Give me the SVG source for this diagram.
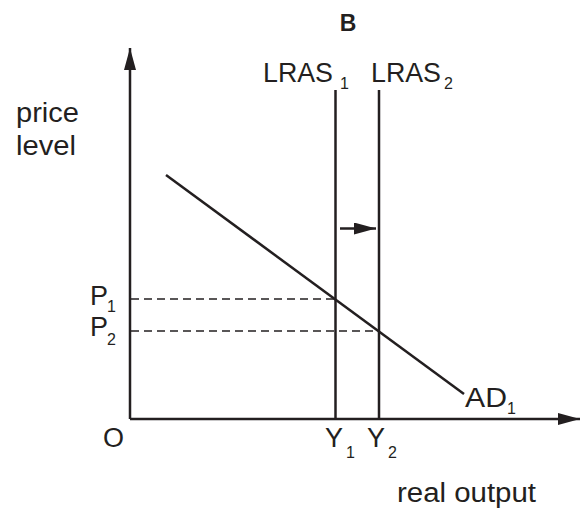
<svg xmlns="http://www.w3.org/2000/svg" width="581" height="514" viewBox="0 0 581 514">
<style>
  text { font-family: "Liberation Sans", Arial, sans-serif; fill: #231f20; }
  .lbl { font-size: 27px; }
  .sub { font-size: 16px; }
  .ln { stroke: #231f20; stroke-width: 2.5; fill: none; }
  .dash { stroke: #231f20; stroke-width: 1.4; stroke-dasharray: 8 5; fill: none; }
</style>
<defs>
  <marker id="ah" markerUnits="userSpaceOnUse" markerWidth="24" markerHeight="14" refX="22" refY="6" orient="auto">
    <path d="M0,0 L22,6 L0,12 Z" fill="#231f20"/>
  </marker>
</defs>
<rect width="581" height="514" fill="#ffffff"/>
<text x="348" y="31" text-anchor="middle" style="font-size:23px;font-weight:bold">B</text>
<g id="axes">
  <line class="ln" x1="130" y1="419" x2="130" y2="48" marker-end="url(#ah)"/>
  <line class="ln" x1="130" y1="419" x2="580" y2="419" marker-end="url(#ah)"/>
  <text class="lbl" x="16" y="122" textLength="63" lengthAdjust="spacingAndGlyphs">price</text>
  <text class="lbl" x="16" y="155" textLength="60" lengthAdjust="spacingAndGlyphs">level</text>
  <text class="lbl" x="103" y="447">O</text>
  <text class="lbl" x="397" y="502" textLength="139" lengthAdjust="spacingAndGlyphs">real output</text>
</g>
<g id="lras1">
  <line class="ln" x1="335.5" y1="90" x2="335.5" y2="419"/>
  <text class="lbl" x="263" y="82" textLength="70" lengthAdjust="spacingAndGlyphs">LRAS</text>
  <text class="sub" x="340" y="89">1</text>
</g>
<g id="lras2">
  <line class="ln" x1="379" y1="90" x2="379" y2="419"/>
  <text class="lbl" x="371" y="82" textLength="70" lengthAdjust="spacingAndGlyphs">LRAS</text>
  <text class="sub" x="444" y="89">2</text>
</g>
<g id="ad1">
  <line class="ln" x1="166" y1="175" x2="464" y2="394"/>
  <text class="lbl" x="465" y="407" textLength="42" lengthAdjust="spacingAndGlyphs">AD</text>
  <text class="sub" x="507" y="414">1</text>
</g>
<g id="p1">
  <text class="lbl" x="90" y="305">P</text>
  <text class="sub" x="107" y="312">1</text>
</g>
<g id="p2">
  <text class="lbl" x="90" y="336">P</text>
  <text class="sub" x="107" y="345">2</text>
</g>
<g id="y1">
  <text class="lbl" x="325" y="447">Y</text>
  <text class="sub" x="346" y="458">1</text>
</g>
<g id="y2">
  <text class="lbl" x="367" y="447">Y</text>
  <text class="sub" x="388" y="458">2</text>
</g>
<g id="connectors">
  <line class="dash" x1="131" y1="299" x2="335" y2="299"/>
  <line class="dash" x1="131" y1="331" x2="379" y2="331"/>
  <line class="ln" x1="340" y1="228.5" x2="376" y2="228.5" marker-end="url(#ah)"/>
</g>
</svg>
